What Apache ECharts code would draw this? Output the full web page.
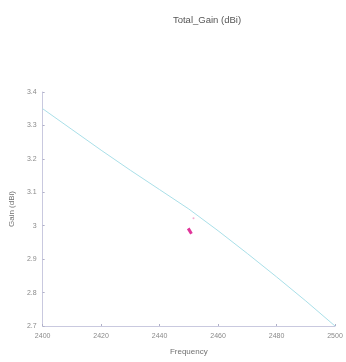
<!DOCTYPE html>
<html>
<head>
<meta charset="utf-8">
<script src="https://cdn.jsdelivr.net/npm/echarts@6/dist/echarts.min.js"></script>
<style>
  html, body { margin: 0; padding: 0; background: #ffffff; }
  #chart { width: 346px; height: 362px; }
</style>
</head>
<body>
<div id="chart"></div>
<script>
// frequency sweep (MHz) and total gain (dBi)
var frequency = [2400, 2410, 2420, 2430, 2440, 2450, 2460, 2470, 2480, 2490, 2500];
var gain = [3.35, 3.288, 3.226, 3.166, 3.108, 3.05, 2.985, 2.917, 2.847, 2.775, 2.70];
// magenta marker stroke near 2450 MHz
var markerFreq = [2449.8, 2450.9];
var markerGain = [2.992, 2.976];
var markerDot = [[2451.6, 3.022]];

var xTicks = ['2400', '2420', '2440', '2460', '2480', '2500'];
var yTicks = ['2.7', '2.8', '2.9', '3', '3.1', '3.2', '3.3', '3.4'];

var chart = echarts.init(document.getElementById('chart'), null, { renderer: 'canvas' });

var axisColor = '#c9c9df';
var labelColor = '#8a8a8a';
var font = 'Arial, "Liberation Sans", sans-serif';

chart.setOption({
  animation: false,
  backgroundColor: '#ffffff',
  title: {
    text: 'Total_Gain (dBi)',
    left: 202,
    top: 10,
    textAlign: 'center',
    textStyle: { fontSize: 9.5, fontWeight: 'normal', color: '#555555', fontFamily: font }
  },
  grid: { left: 39, right: 11, top: 92, bottom: 36 },
  xAxis: {
    type: 'value',
    min: 2400,
    max: 2500,
    interval: 20,
    name: 'Frequency',
    nameLocation: 'middle',
    nameGap: 22,
    nameTextStyle: { fontSize: 8, color: '#707070', fontFamily: font },
    axisLine: { lineStyle: { color: axisColor, width: 1 } },
    axisTick: { show: true, inside: true, length: 2, lineStyle: { color: '#b0b0c8' } },
    splitLine: { show: false },
    axisLabel: {
      fontSize: 7, color: labelColor, margin: 7, fontFamily: font,
      formatter: function (v) { return xTicks[(v - 2400) / 20]; }
    }
  },
  yAxis: {
    type: 'value',
    min: 2.7,
    max: 3.4,
    interval: 0.1,
    name: 'Gain (dBi)',
    nameLocation: 'middle',
    nameGap: 22,
    nameRotate: 90,
    nameTextStyle: { fontSize: 8, color: '#707070', fontFamily: font },
    axisLine: { show: true, lineStyle: { color: axisColor, width: 1 } },
    axisTick: { show: true, inside: true, length: 2, lineStyle: { color: '#b0b0c8' } },
    splitLine: { show: false },
    axisLabel: {
      fontSize: 7, color: labelColor, margin: 6, fontFamily: font,
      formatter: function (v) { return yTicks[Math.round((v - 2.7) * 10)]; }
    }
  },
  series: [
    {
      type: 'line',
      data: frequency.map(function (f, i) { return [f, gain[i]]; }),
      showSymbol: false,
      lineStyle: { color: '#a9dfe8', width: 1 },
      z: 2
    },
    {
      type: 'line',
      data: markerFreq.map(function (f, i) { return [f, markerGain[i]]; }),
      showSymbol: false,
      lineStyle: { color: '#e0359a', width: 3 },
      z: 3
    },
    {
      type: 'scatter',
      data: markerDot,
      symbolSize: 2,
      itemStyle: { color: '#f09ac8' },
      z: 3
    }
  ]
});
</script>
</body>
</html>
